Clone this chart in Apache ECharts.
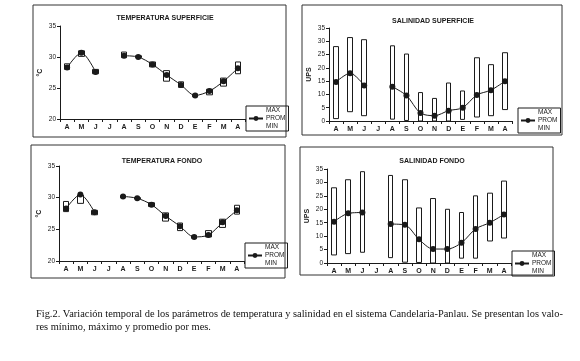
<!DOCTYPE html>
<html>
<head>
<meta charset="utf-8">
<script src="https://cdn.jsdelivr.net/npm/echarts@6/dist/echarts.min.js"></script>
<style>
  html, body { margin: 0; padding: 0; background: #fff; }
  #chart { width: 580px; height: 361px; }
</style>
</head>
<body>
<div id="chart"></div>
<script>
// meses: abril a abril (julio sin muestreo)
const meses = ['A', 'M', 'J', 'J', 'A', 'S', 'O', 'N', 'D', 'E', 'F', 'M', 'A'];

// temperatura superficie (°C)
const tsProm = [28.3, 30.7, 27.6, null, 30.2, 30.0, 28.8, 27.1, 25.5, 23.8, 24.5, 26.1, 28.2];
const tsMax = [28.9, 31.0, 28.0, null, 30.8, 30.2, 29.2, 27.8, 26.0, 24.0, 24.8, 26.6, 29.2];
const tsMin = [28.0, 30.1, 27.3, null, 29.9, 29.9, 28.4, 26.1, 25.1, 23.6, 23.9, 25.3, 27.3];

// temperatura fondo (°C)
const tfProm = [28.3, 30.5, 27.7, null, 30.2, 29.9, 28.9, 27.1, 25.5, 23.8, 24.1, 26.1, 28.0];
const tfMax = [29.4, 30.4, 28.0, null, 30.3, 30.0, 29.2, 27.6, 26.0, 24.0, 24.8, 26.6, 28.8];
const tfMin = [27.8, 29.1, 27.3, null, 30.0, 29.8, 28.6, 26.3, 24.8, 23.6, 23.8, 25.3, 27.4];

// salinidad superficie (UPS)
const ssProm = [14.7, 18.0, 13.4, null, 12.9, 9.6, 3.0, 2.0, 3.9, 5.0, 9.8, 11.6, 15.0];
const ssMax = [28.0, 31.4, 30.6, null, 28.3, 25.2, 10.7, 8.5, 14.3, 11.3, 23.8, 21.2, 25.7];
const ssMin = [0.9, 3.5, 2.0, null, 0.7, 0.2, 0.0, 0.0, 0.0, 0.6, 1.5, 2.0, 4.3];

// salinidad fondo (UPS)
const sfProm = [15.4, 18.5, 18.8, null, 14.5, 14.2, 8.8, 5.2, 5.2, 7.5, 12.7, 15.0, 18.1];
const sfMax = [28.0, 31.0, 34.0, null, 32.6, 31.0, 20.5, 24.0, 20.0, 18.8, 25.0, 26.0, 30.5];
const sfMin = [3.0, 3.5, 4.0, null, 2.0, 0.3, 0.2, 0.0, 0.0, 1.8, 1.8, 8.2, 9.3];

const ink = '#1a1a1a';
const sans = 'Liberation Sans, Arial, sans-serif';

// [open, close, low, high] -> caja de min a max
function cajas (mx, mn) {
  return mx.map((v, i) => (v == null ? '-' : [mn[i], v, mn[i], v]));
}

const paneles = [
  { titulo: 'TEMPERATURA SUPERFICIE', unidad: '°C', min: 20, prom: tsProm, max: tsMax, mn: tsMin,
    grid: { left: 60, top: 26, width: 185, height: 93 }, tit: { left: 160, top: 10 },
    leg: { left: 246, top: 106 }, caja: 6 },
  { titulo: 'SALINIDAD SUPERFICIE', unidad: 'UPS', min: 0, prom: ssProm, max: ssMax, mn: ssMin,
    grid: { left: 329, top: 28, width: 183, height: 93 }, tit: { left: 428, top: 13 },
    leg: { left: 518, top: 108 }, caja: 5 },
  { titulo: 'TEMPERATURA FONDO', unidad: '°C', min: 20, prom: tfProm, max: tfMax, mn: tfMin,
    grid: { left: 59, top: 166, width: 185, height: 95 }, tit: { left: 157, top: 153 },
    leg: { left: 245, top: 243 }, caja: 6 },
  { titulo: 'SALINIDAD FONDO', unidad: 'UPS', min: 0, prom: sfProm, max: sfMax, mn: sfMin,
    grid: { left: 327, top: 169, width: 184, height: 94 }, tit: { left: 427, top: 153 },
    leg: { left: 512, top: 251 }, caja: 5 },
];

const marcos = [
  { x: 33, y: 5, width: 253, height: 132 },
  { x: 302, y: 5, width: 260, height: 130 },
  { x: 31, y: 145, width: 254, height: 133 },
  { x: 300, y: 147, width: 253, height: 128 },
];

const option = {
  animation: false,
  backgroundColor: '#fff',
  title: paneles.map((p) => ({
    text: p.titulo,
    left: p.tit.left,
    top: p.tit.top,
    textAlign: 'center',
    textStyle: { fontFamily: sans, fontSize: 7, fontWeight: 'bold', color: ink },
  })).concat([{
    text: 'Fig.2. Variación temporal de los parámetros de temperatura y salinidad en el sistema Candelaria-Panlau. Se presentan los valo-\nres mínimo, máximo y promedio por mes.',
    left: 31,
    top: 303,
    textStyle: { fontFamily: 'Liberation Serif, Times New Roman, serif', fontSize: 10.4, fontWeight: 'normal', color: '#111', lineHeight: 13 },
  }]),
  legend: paneles.map((p) => ({
    left: p.leg.left,
    top: p.leg.top,
    orient: 'vertical',
    borderColor: ink,
    borderWidth: 1,
    padding: [1, 3, 1, 2],
    itemGap: 1,
    itemWidth: 14,
    itemHeight: 6,
    selectedMode: false,
    textStyle: { fontFamily: sans, fontSize: 6.5, color: ink, padding: [0, 0, 0, -2] },
    data: [
      { name: 'MAX', icon: 'none' },
      'PROM',
      { name: 'MIN', icon: 'none' },
    ],
  })),
  grid: paneles.map((p) => p.grid),
  xAxis: paneles.map((p, i) => ({
    type: 'category',
    gridIndex: i,
    data: meses,
    boundaryGap: true,
    axisLine: { lineStyle: { color: ink, width: 1 } },
    axisTick: { show: true, length: 3, lineStyle: { color: ink } },
    axisLabel: { fontFamily: sans, fontSize: 7, fontWeight: 'bold', color: ink, margin: 5 },
    splitLine: { show: false },
  })),
  yAxis: paneles.map((p, i) => ({
    type: 'value',
    gridIndex: i,
    min: p.min,
    max: 35,
    interval: 5,
    name: p.unidad,
    nameLocation: 'middle',
    nameGap: 16,
    nameRotate: 90,
    nameTextStyle: { fontFamily: sans, fontSize: 7, fontWeight: 'bold', color: ink },
    axisLine: { show: true, lineStyle: { color: ink, width: 1 } },
    axisTick: { show: true, length: 3, lineStyle: { color: ink } },
    axisLabel: { fontFamily: sans, fontSize: 6.5, color: ink, margin: 4 },
    splitLine: { show: false },
  })),
  series: [],
  graphic: marcos.map((m) => ({
    type: 'rect',
    shape: m,
    style: { fill: 'none', stroke: '#333', lineWidth: 1 },
    silent: true,
  })),
};

paneles.forEach((p, i) => {
  option.series.push({
    name: 'MAX',
    type: 'candlestick',
    xAxisIndex: i,
    yAxisIndex: i,
    barWidth: p.caja,
    itemStyle: { color: '#fff', color0: '#fff', borderColor: ink, borderColor0: ink, borderWidth: 1 },
    data: cajas(p.max, p.mn),
    z: 2,
  });
  option.series.push({
    name: 'PROM',
    type: 'line',
    xAxisIndex: i,
    yAxisIndex: i,
    smooth: 0.3,
    symbol: 'circle',
    symbolSize: 6,
    connectNulls: false,
    lineStyle: { color: ink, width: 1 },
    itemStyle: { color: ink },
    data: p.prom,
    z: 3,
  });
  option.series.push({
    name: 'MIN',
    type: 'line',
    xAxisIndex: i,
    yAxisIndex: i,
    symbol: 'none',
    lineStyle: { opacity: 0 },
    data: [],
  });
});

const chart = echarts.init(document.getElementById('chart'));
chart.setOption(option);
</script>
</body>
</html>
